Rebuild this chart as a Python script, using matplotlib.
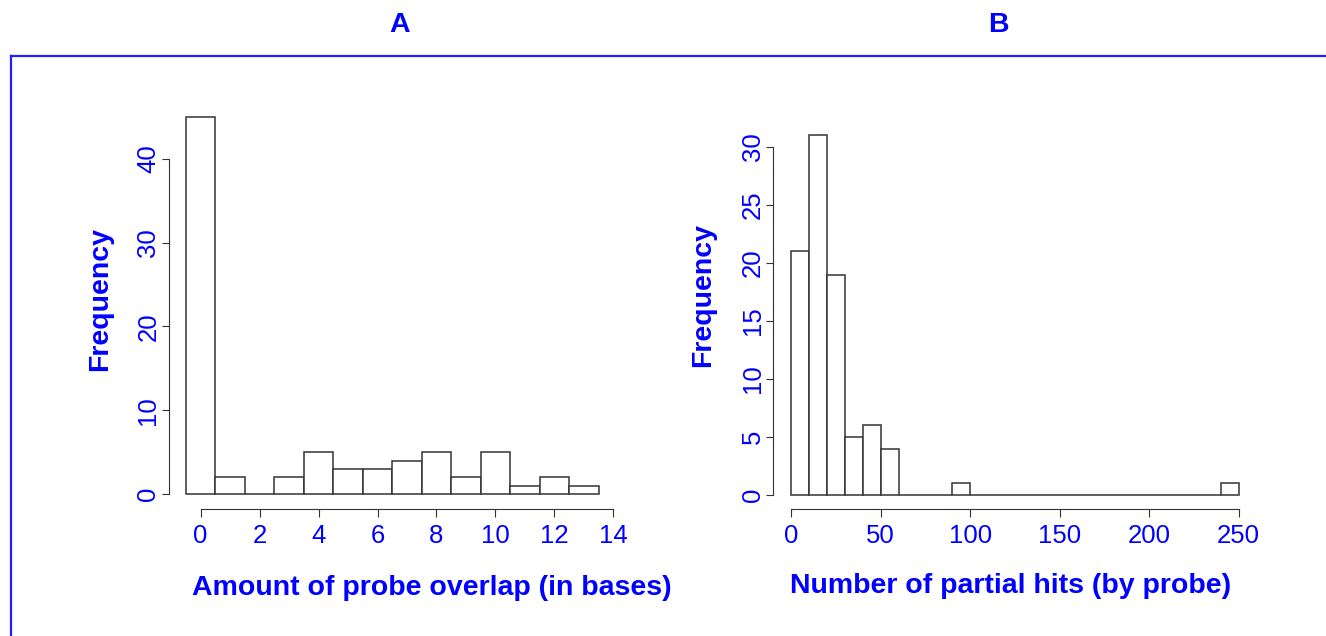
import matplotlib.pyplot as plt
from matplotlib.lines import Line2D
import numpy as np

# panel A: amount of probe overlap (bins of width 1 centred on integers)
overlap_bin_starts = np.arange(-0.5, 13.5, 1.0)
overlap_counts = [45, 2, 0, 2, 5, 3, 3, 4, 5, 2, 5, 1, 2, 1]
overlap_xticks = [0, 2, 4, 6, 8, 10, 12, 14]
overlap_yticks = [0, 10, 20, 30, 40]

# panel B: number of partial hits (bins of width 10)
hits_bin_starts = np.arange(0, 250, 10)
hits_counts = [21, 31, 19, 5, 6, 4, 0, 0, 0, 1, 0, 0, 0, 0, 0,
               0, 0, 0, 0, 0, 0, 0, 0, 0, 1]
hits_xticks = [0, 50, 100, 150, 200, 250]
hits_yticks = [0, 5, 10, 15, 20, 25, 30]

BLUE = "#0000ff"
W, H = 1326, 636

plt.rcParams['font.family'] = ['Liberation Sans', 'DejaVu Sans']

fig = plt.figure(figsize=(W / 100, H / 100), dpi=100)


def r_limits(lo, hi):
    # R pads axis ranges by 4% on each side
    pad = (hi - lo) * 0.04
    return lo - pad, hi + pad


def draw_hist(ax, starts, width, counts, xticks, yticks):
    ax.bar(starts, counts, width=width, align='edge', facecolor='white',
           edgecolor='#333333', linewidth=1.1)
    ax.set_xlim(*r_limits(starts[0], starts[-1] + width))
    ax.set_ylim(*r_limits(0, max(counts)))
    ax.set_xticks(xticks)
    ax.set_yticks(yticks)
    for side in ('top', 'right'):
        ax.spines[side].set_visible(False)
    ax.spines['left'].set_bounds(yticks[0], yticks[-1])
    ax.spines['bottom'].set_bounds(xticks[0], xticks[-1])
    for side in ('left', 'bottom'):
        ax.spines[side].set_color('#333333')
        ax.spines[side].set_linewidth(0.8)
    ax.tick_params(length=5.4, width=0.8, color='#333333',
                   labelcolor=BLUE, labelsize=18.5)
    ax.tick_params(axis='x', pad=5)
    ax.tick_params(axis='y', pad=1)
    for lab in ax.get_yticklabels():
        lab.set_rotation(90)
        lab.set_va('center')


def px_axes(left, right, top, bottom):
    return fig.add_axes([left / W, 1 - bottom / H, (right - left) / W, (bottom - top) / H])


ax_a = px_axes(169.3, 615.2, 101.7, 509.3)
draw_hist(ax_a, overlap_bin_starts, 1.0, overlap_counts, overlap_xticks, overlap_yticks)

ax_b = px_axes(773.4, 1256.6, 121.0, 509.4)
draw_hist(ax_b, hits_bin_starts, 10, hits_counts, hits_xticks, hits_yticks)

label_kw = dict(color=BLUE, fontweight='bold', fontsize=20.5, ha='center', va='center')
fig.text(400 / W, 1 - 25 / H, "A", **label_kw)
fig.text(998 / W, 1 - 25 / H, "B", **label_kw)
fig.text(432 / W, 1 - 588 / H, "Amount of probe overlap (in bases)", **label_kw)
fig.text(1011 / W, 1 - 586 / H, "Number of partial hits (by probe)", **label_kw)
fig.text(100 / W, 1 - 299 / H, "Frequency", rotation=90, **label_kw)
fig.text(703 / W, 1 - 295 / H, "Frequency", rotation=90, **label_kw)

# blue frame lines along the top and left
fig.add_artist(Line2D([11 / W, 1], [1 - 56 / H, 1 - 56 / H], color='#2020ff', linewidth=1.6))
fig.add_artist(Line2D([11 / W, 11 / W], [0, 1 - 56 / H], color='#2020ff', linewidth=1.6))

fig.savefig('out.png', dpi=100)
